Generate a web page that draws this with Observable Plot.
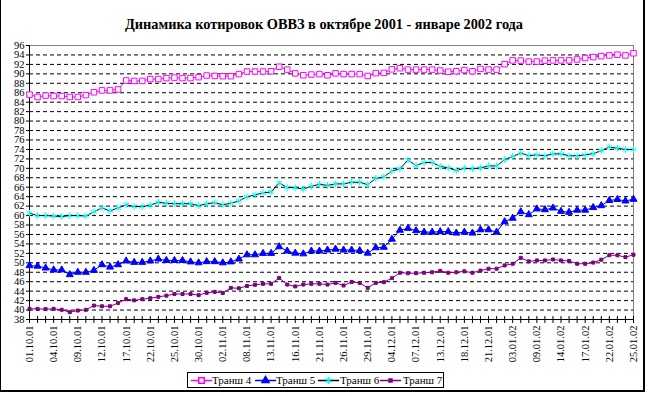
<!DOCTYPE html>
<html><head><meta charset="utf-8">
<script src="https://cdn.jsdelivr.net/npm/d3@7"></script>
<script src="https://cdn.jsdelivr.net/npm/@observablehq/plot@0.6"></script>
<style>
body{margin:0;background:#fff;}
#wrap{position:relative;width:648px;height:396px;overflow:hidden;background:#fff;}
#frame{position:absolute;left:0;top:0;width:645px;height:392px;border-left:1px solid #000;border-right:2px solid #000;border-bottom:2px solid #000;box-sizing:border-box;}
#title{position:absolute;left:0;top:17px;width:648px;text-align:center;font:bold 14.3px "Liberation Serif","Times New Roman",serif;line-height:14px;white-space:nowrap;}
#chart{position:absolute;left:0;top:0;}
#legend{position:absolute;left:187px;top:372px;width:257px;height:16px;border:1px solid #000;box-sizing:border-box;background:#fff;font:11px "Liberation Serif","Times New Roman",serif;}
#legend .sw{position:absolute;top:1px;}
#legend .tx{position:absolute;top:0px;line-height:14px;white-space:nowrap;}
#legend svg{display:block;}
</style></head><body>
<div id="wrap"><div id="frame"></div><div id="chart"></div><div id="title">Динамика котировок ОВВЗ в октябре 2001 - январе 2002 года</div><div id="legend"></div></div>
<script>
// Tick labels (every third trading day)
const dateLabels = ["01.10.01","04.10.01","09.10.01","12.10.01","17.10.01","22.10.01","25.10.01","30.10.01","02.11.01","08.11.01","13.11.01","16.11.01","21.11.01","26.11.01","29.11.01","04.12.01","07.12.01","13.12.01","18.12.01","21.12.01","03.01.02","09.01.02","14.01.02","17.01.02","22.01.02","25.01.02"];
const seriesNames = ["Транш 4","Транш 5","Транш 6","Транш 7"];
const yTicks = [38,40,42,44,46,48,50,52,54,56,58,60,62,64,66,68,70,72,74,76,78,80,82,84,86,88,90,92,94,96];

const tranche4 = [85.6,85.1,85.4,85.3,85.3,85.1,85.1,85.5,86.1,86.5,86.5,86.7,88.6,88.5,88.5,88.9,88.9,89.1,89.2,89.1,89.1,89.3,89.65,89.55,89.5,89.5,89.95,90.5,90.5,90.5,90.55,91.5,90.9,90.1,89.7,89.85,89.95,89.7,90.1,89.95,89.95,89.95,89.55,90.15,90.2,90.95,
91.2,90.9,90.9,90.9,90.9,90.7,90.45,90.55,90.8,90.55,91.05,90.9,90.9,92.05,92.85,92.8,92.6,92.6,92.8,92.85,92.85,92.85,93.05,93.35,93.55,93.75,93.9,94.05,93.9,94.35];
const tranche5 = [49.4,49.3,48.9,48.5,48.5,47.5,48.0,48.0,48.4,49.6,49.1,49.6,50.4,50.1,50.1,50.4,
50.8,50.5,50.5,50.5,50.2,50.0,50.25,50.25,50.0,50.2,50.8,51.7,51.7,52.0,52.0,
53.4,52.5,52.05,51.9,52.5,52.5,52.7,52.9,52.7,52.7,52.6,52.05,53.2,53.3,55.0,
56.9,57.3,56.8,56.5,56.5,56.6,56.6,56.3,56.5,56.3,57.0,57.0,56.5,
58.7,59.45,60.8,60.2,61.4,61.25,61.6,60.9,60.7,61.15,61.15,61.7,62.1,63.2,63.4,63.1,63.45];
const tranche6 = [60.5,60.0,60.0,59.9,59.8,60.0,60.0,59.9,60.8,61.6,61.0,61.6,62.3,61.9,61.9,62.2,62.8,62.6,62.5,62.5,62.5,62.1,
62.5,62.7,62.3,62.6,63.1,63.95,64.4,64.8,65.0,66.9,65.95,65.9,65.6,66.2,66.6,66.4,66.7,66.7,67.05,67.05,66.55,67.85,68.2,69.45,
69.9,71.75,70.6,71.2,71.25,70.4,70.1,69.55,70.0,69.9,70.1,70.5,70.5,71.85,72.5,73.2,72.7,72.85,72.65,73.05,73.05,72.65,72.65,72.85,73.1,73.75,74.5,74.25,74.0,74.0];
const tranche7 = [40.25,40.25,40.2,40.25,40.05,39.55,39.9,40.05,40.95,40.8,40.8,41.5,42.3,42.05,42.3,42.5,42.8,43.05,43.4,43.4,43.4,43.15,43.65,43.85,43.6,44.7,44.6,45.1,45.35,45.55,45.55,46.8,45.4,45.0,45.4,45.55,45.55,45.4,45.75,45.2,45.95,45.75,44.7,45.75,45.9,46.75,
47.9,47.8,47.8,47.9,48.0,48.3,47.9,48.0,48.2,47.9,48.35,48.75,48.75,49.45,49.8,51.05,50.3,50.5,50.5,50.7,50.5,50.4,49.8,49.8,50.05,50.65,51.6,51.6,51.2,51.7];

const styles = [
  {line:"#ff00ff", symbol:"square", fill:"#fff", stroke:"#ff00ff", r:3.1, sw:1},
  {line:"#0000ff", symbol:"triangle", fill:"#0000ff", stroke:"#0000ff", r:2.6, sw:1},
  {line:"#000000", symbol:"asterisk", fill:"none", stroke:"#00ffff", r:3.2, sw:1},
  {line:"#800080", symbol:"square", fill:"#800080", stroke:"#800080", r:1.7, sw:1}
];
const allValues = [tranche4, tranche5, tranche6, tranche7];
const n = tranche4.length;
const idx = d3.range(n);
const labelIdx = dateLabels.map((d, k) => k * 3);
const gridY = yTicks.filter(v => v > 38 && v < 96);

const serif = '"Liberation Serif","Times New Roman",serif';
const marks = [
  Plot.ruleY(gridY, {stroke:"#000", strokeDasharray:"4,3"}),
  Plot.ruleY([96], {stroke:"#808080"}),
  Plot.ruleX([n - 1], {stroke:"#808080"}),
  Plot.axisY({ticks: yTicks, tickSize: 3, tickPadding: 2, fontSize: 10.5, fontFamily: serif, stroke:"#000", label: null}),
  Plot.axisX({ticks: idx, tickSize: 7, dy: -3, tickFormat: () => "", stroke:"#000", label: null}),
  Plot.axisX({ticks: labelIdx, tickSize: 0, tickPadding: 6, tickRotate: -90, fontSize: 10.5, fontFamily: serif, tickFormat: i => dateLabels[i / 3], label: null}),
  Plot.ruleX([0], {stroke:"#000"}),
  Plot.ruleY([38], {stroke:"#000"})
];
allValues.forEach((vals, s) => {
  const st = styles[s];
  const data = vals.map((v, i) => ({i, v}));
  marks.push(Plot.line(data, {x:"i", y:"v", stroke: st.line, strokeWidth: 1}));
  marks.push(Plot.dot(data, {x:"i", y:"v", symbol: st.symbol, r: st.r, fill: st.fill, stroke: st.stroke, strokeWidth: st.sw}));
});

const chart = Plot.plot({
  width: 648, height: 372,
  marginTop: 45, marginBottom: 53, marginLeft: 29, marginRight: 15,
  style: {background: "transparent", overflow: "visible"},
  x: {domain: [0, n - 1], axis: null},
  y: {domain: [38, 96], axis: null},
  marks
});
document.getElementById("chart").appendChild(chart);

// Legend
const leg = document.getElementById("legend");
const swLeft = [3, 67, 130, 192];
const txLeft = [24, 88, 152, 215];
seriesNames.forEach((name, s) => {
  const st = styles[s];
  const sw = Plot.plot({
    width: 20, height: 12, margin: 0,
    x: {domain: [0, 2], axis: null}, y: {domain: [0, 2], axis: null},
    style: {background: "transparent", overflow: "visible"},
    marks: [
      Plot.line([{x:0,y:1},{x:2,y:1}], {x:"x", y:"y", stroke: st.line}),
      Plot.dot([{x:1,y:1}], {x:"x", y:"y", symbol: st.symbol, r: st.r, fill: st.fill, stroke: st.stroke})
    ]
  });
  const a = document.createElement("div");
  a.className = "sw";
  a.style.left = swLeft[s] + "px";
  a.appendChild(sw);
  leg.appendChild(a);
  const t = document.createElement("div");
  t.className = "tx";
  t.style.left = txLeft[s] + "px";
  t.textContent = name;
  leg.appendChild(t);
});
</script>
</body></html>
